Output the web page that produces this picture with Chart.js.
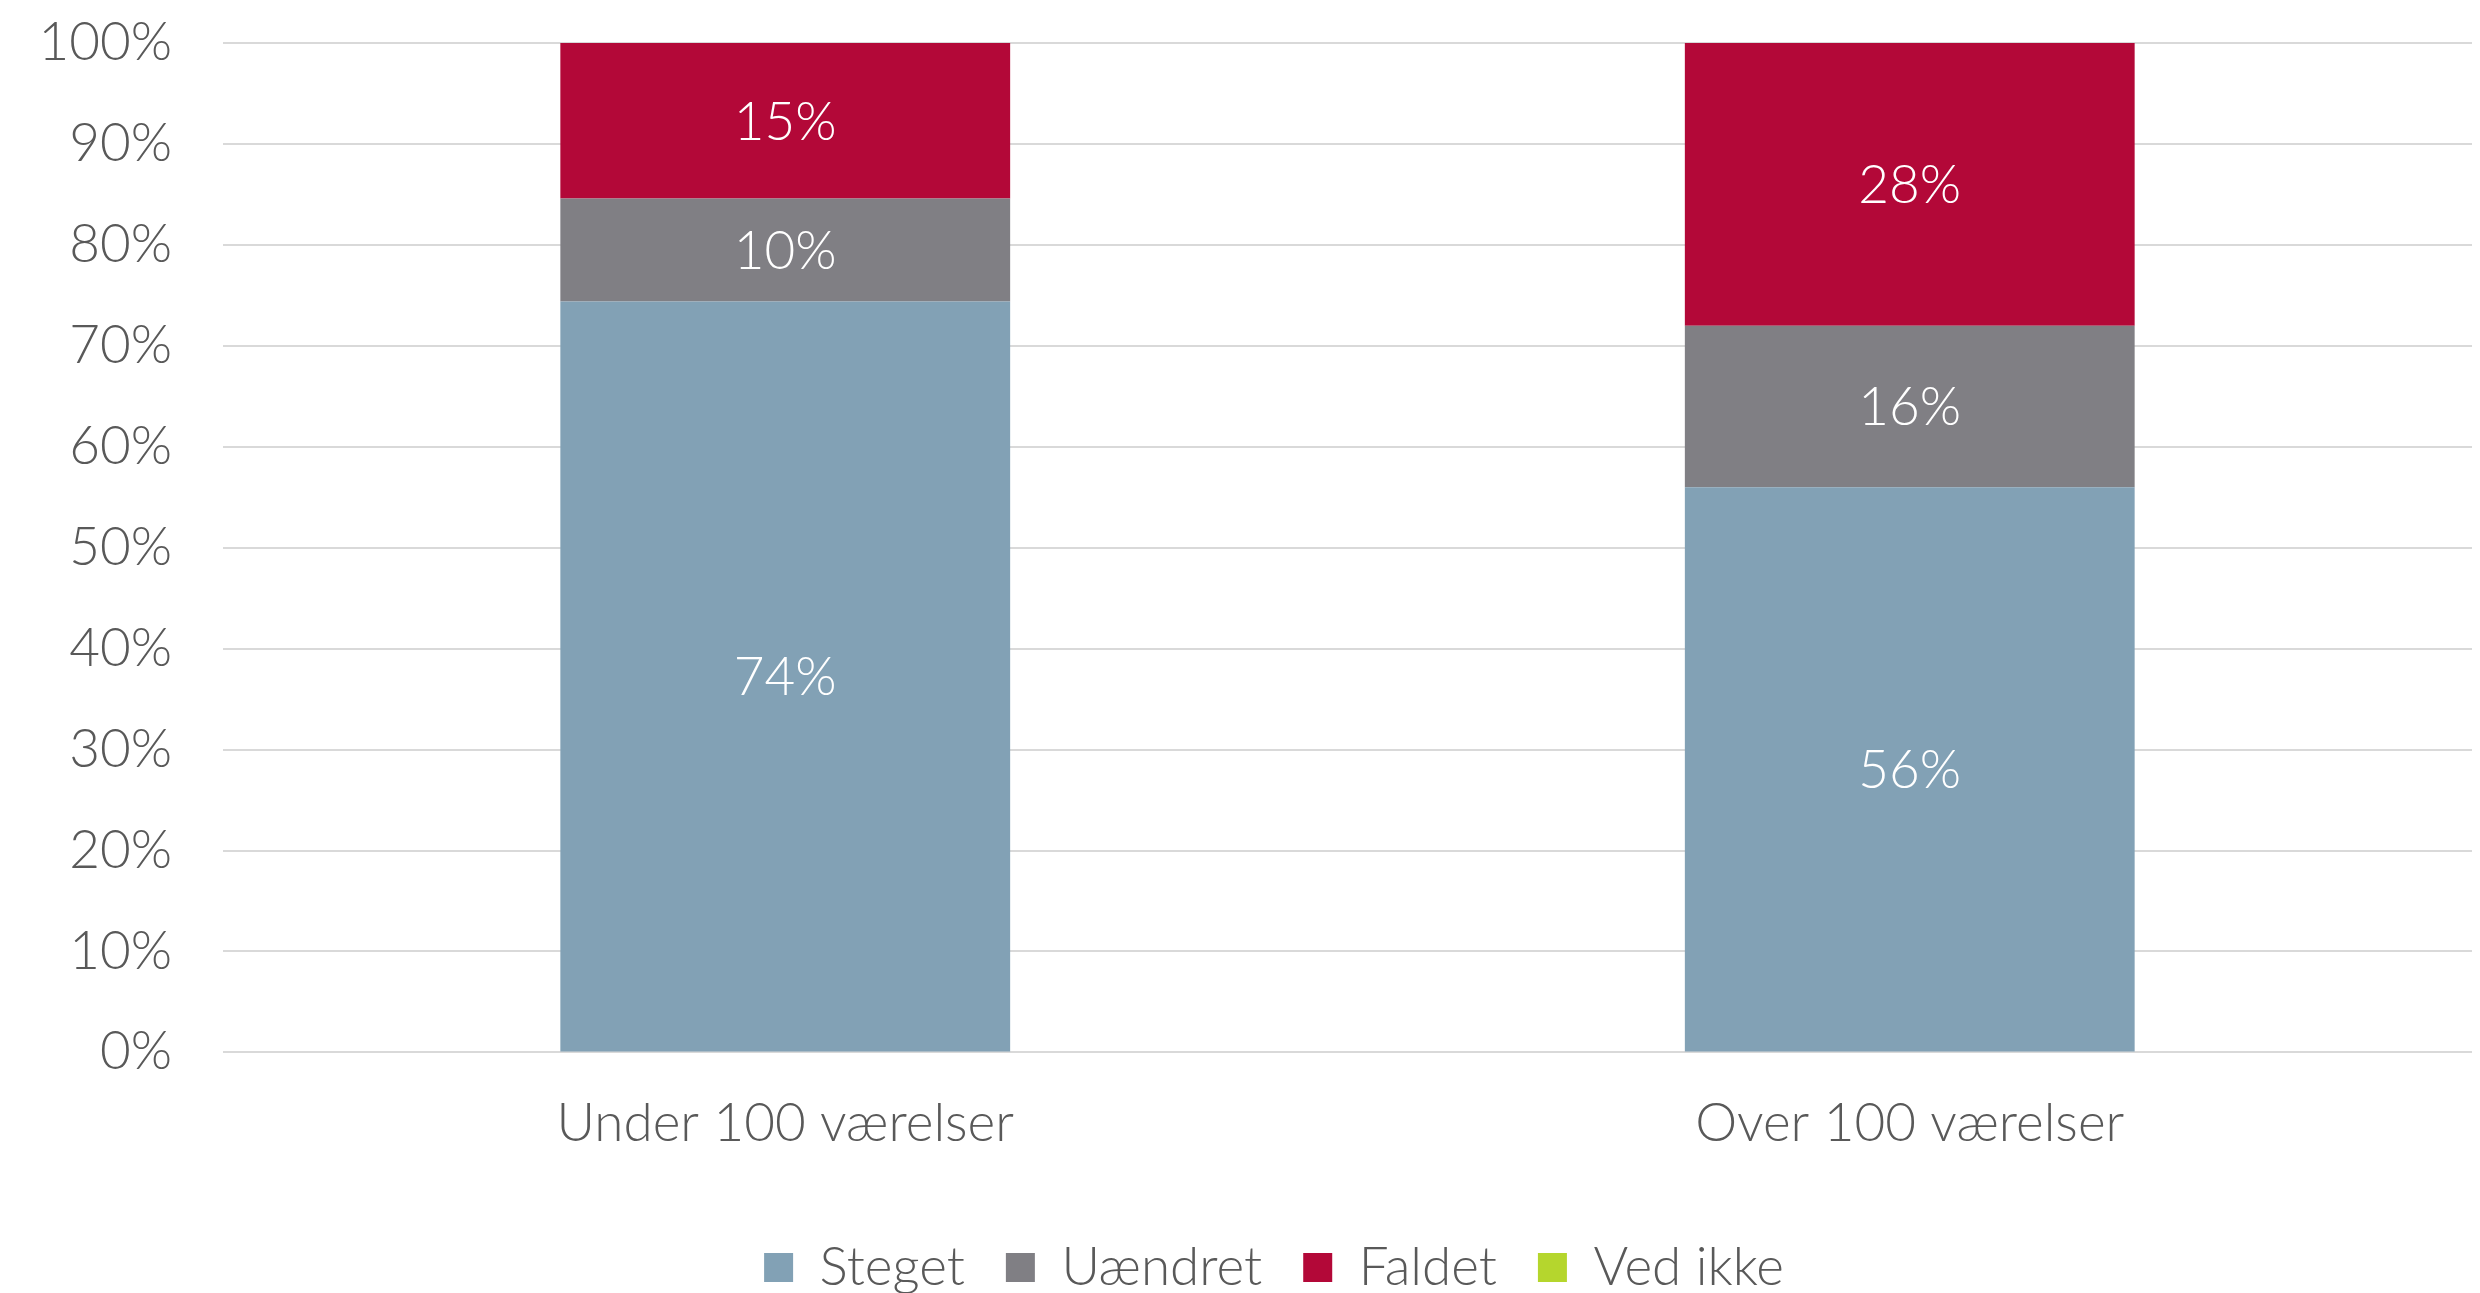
<!DOCTYPE html>
<html>
<head>
<meta charset="utf-8">
<script src="https://cdn.jsdelivr.net/npm/chart.js@4/dist/chart.umd.min.js"></script>
<style>
  html, body { margin: 0; padding: 0; background: #fff; }
  canvas { display: block; }
</style>
</head>
<body>
<canvas id="chart" width="2480" height="1293"></canvas>
<script>
// ---------- Data ----------
const categories = ["Under 100 værelser", "Over 100 værelser"];
const steget     = [74.4, 56.0];
const uaendret   = [10.2, 16.0];
const faldet     = [15.4, 28.0];
const vedIkke    = [0, 0];
const yTicks     = [0, 10, 20, 30, 40, 50, 60, 70, 80, 90, 100];

const FONT = "Lato, 'Open Sans', sans-serif";
const TEXT = "#595959";
const SIZE = 53;

// ---------- Value labels inside the bars ----------
const barLabels = {
    id: "barLabels",
    afterDatasetsDraw(chart) {
        const ctx = chart.ctx;
        ctx.save();
        ctx.font = `300 ${SIZE}px ${FONT}`;
        ctx.fillStyle = "#ffffff";
        ctx.textAlign = "center";
        ctx.textBaseline = "middle";
        chart.data.datasets.forEach((ds, i) => {
            const meta = chart.getDatasetMeta(i);
            meta.data.forEach((bar, j) => {
                const v = ds.data[j];
                if (!v) return;
                ctx.fillText(Math.round(v) + "%", bar.x, (bar.y + bar.base) / 2 + 2);
            });
        });
        ctx.restore();
    }
};

// ---------- Nudge legend right (reference centres it a bit off the canvas middle) ----------
const legendShift = {
    id: "legendShift",
    afterLayout(chart) {
        if (!chart.legend) return;
        chart.legend.left  += 38;
        chart.legend.right += 38;
    }
};

new Chart(document.getElementById("chart"), {
    type: "bar",
    data: {
        labels: categories,
        datasets: [
            { label: "Steget",   data: steget,   backgroundColor: "#82A1B5" },
            { label: "Uændret",  data: uaendret, backgroundColor: "#807F84" },
            { label: "Faldet",   data: faldet,   backgroundColor: "#B30838" },
            { label: "Ved ikke", data: vedIkke,  backgroundColor: "#B5D62D" }
        ]
    },
    options: {
        responsive: false,
        animation: false,
        devicePixelRatio: 1,
        datasets: { bar: { barPercentage: 0.4, categoryPercentage: 1 } },
        layout: { padding: { left: 0, right: 8, top: 0, bottom: -11 } },
        plugins: {
            legend: {
                position: "bottom",
                labels: {
                    boxWidth: 29,
                    boxHeight: 29,
                    padding: 41,
                    color: TEXT,
                    font: { family: FONT, size: SIZE, weight: 300 }
                }
            },
            tooltip: { enabled: false }
        },
        scales: {
            x: {
                stacked: true,
                grid: { display: false },
                border: { display: false },
                afterFit: axis => { axis.height += 12; },
                ticks: { color: TEXT, padding: 32, font: { family: FONT, size: SIZE, weight: 300 } }
            },
            y: {
                stacked: true,
                min: 0,
                max: 100,
                afterBuildTicks: axis => { axis.ticks = yTicks.map(v => ({ value: v })); },
                // fixed axis width, and keep the tick padding from pushing the plot down
                afterFit: axis => { axis.width = 223; axis.paddingTop = 43; },
                grid: { color: "#D9D9D9", lineWidth: 2, drawTicks: false },
                border: { display: false },
                ticks: {
                    color: TEXT,
                    padding: 51,
                    font: { family: FONT, size: SIZE, weight: 300 },
                    callback: v => v + "%"
                }
            }
        }
    },
    plugins: [barLabels, legendShift]
});
</script>
</body>
</html>
